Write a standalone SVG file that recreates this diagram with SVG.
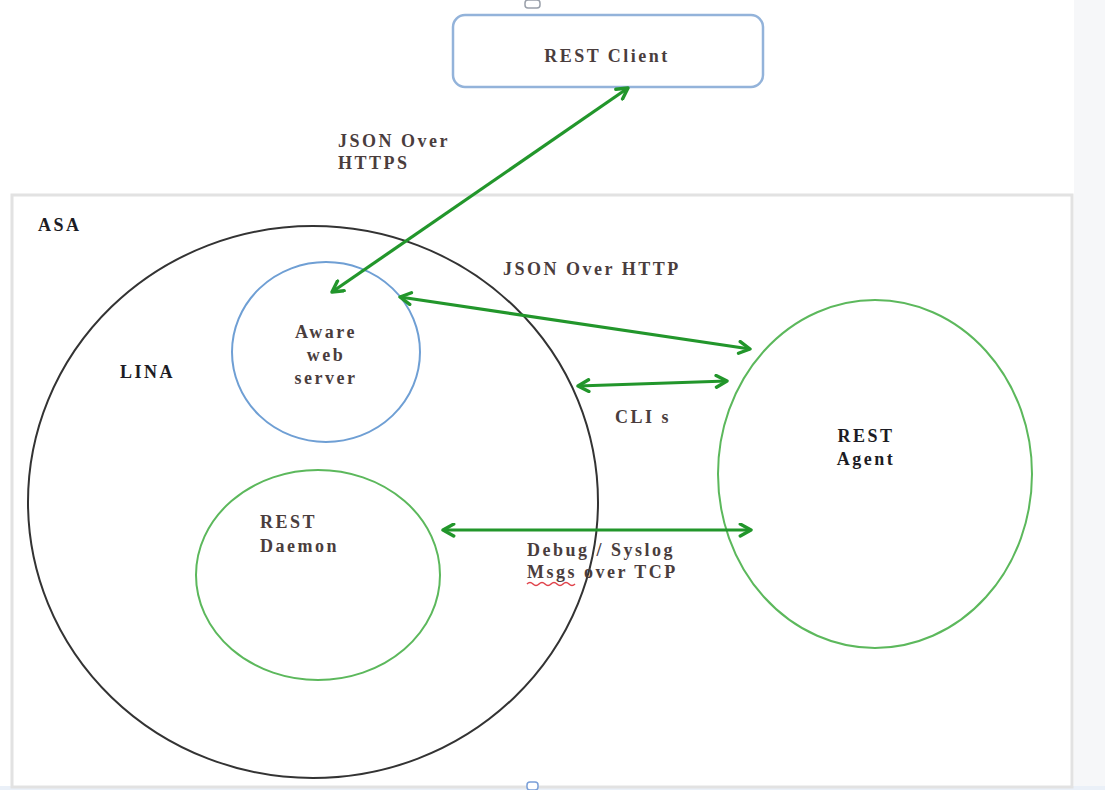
<svg xmlns="http://www.w3.org/2000/svg" width="1105" height="790" viewBox="0 0 1105 790">
<defs>
<marker id="ah" viewBox="0 0 14 14" refX="12" refY="7" markerWidth="15" markerHeight="15" markerUnits="userSpaceOnUse" orient="auto-start-reverse">
<path d="M2,1.5 L12,7 L2,12.5" fill="none" stroke="#22962b" stroke-width="3.2" stroke-linecap="round" stroke-linejoin="round"/>
</marker>
</defs>
<style>
.t{font-family:"Liberation Serif","Times New Roman",serif;font-weight:bold;font-size:18px;fill:#4a3d3d;letter-spacing:2.5px}
.k{fill:#1c1c24}
.c{stroke:#22962b;stroke-width:3.2;fill:none;marker-start:url(#ah);marker-end:url(#ah)}
.g{fill:none;stroke:#5cb85c;stroke-width:2}
</style>
<rect width="1105" height="790" fill="#ffffff"/>
<rect x="1074" y="0" width="31" height="790" fill="#f6f7f9"/>
<rect x="0" y="786" width="1105" height="4" fill="#eaf0f8"/>
<g id="asa">
<rect x="12" y="195" width="1060" height="592" fill="#ffffff" stroke="#e2e2e2" stroke-width="3"/>
<text class="t k" x="38" y="231" font-size="17">ASA</text>
</g>
<g id="rest-client">
<rect x="525" y="0" width="15" height="8" rx="3" fill="#fff" stroke="#9aa0aa" stroke-width="1.5"/>
<rect x="453" y="15" width="310" height="72" rx="12" fill="#ffffff" stroke="#93b3da" stroke-width="2.5"/>
<text class="t" x="607" y="62" text-anchor="middle" font-size="19">REST Client</text>
</g>
<g id="lina">
<ellipse cx="313" cy="502" rx="285" ry="276" fill="none" stroke="#333" stroke-width="2"/>
<text class="t k" x="120" y="378">LINA</text>
</g>
<g id="aware">
<ellipse cx="326" cy="352" rx="94" ry="90" fill="none" stroke="#6f9fd4" stroke-width="2"/>
<text class="t" text-anchor="middle" font-size="17" letter-spacing="3"><tspan x="326" y="338">Aware</tspan><tspan x="326" y="361">web</tspan><tspan x="326" y="384">server</tspan></text>
</g>
<g id="daemon">
<ellipse class="g" cx="318" cy="575" rx="122" ry="105"/>
<text class="t" font-size="17"><tspan x="260" y="528">REST</tspan><tspan x="260" y="552">Daemon</tspan></text>
</g>
<g id="agent">
<ellipse class="g" cx="875" cy="474" rx="157" ry="174"/>
<text class="t k" text-anchor="middle" font-size="17"><tspan x="866" y="442">REST</tspan><tspan x="866" y="465">Agent</tspan></text>
</g>
<g id="connectors">
<line class="c" x1="332" y1="292" x2="628" y2="88"/>
<line class="c" x1="400" y1="297" x2="750" y2="349"/>
<line class="c" x1="578" y1="386" x2="727" y2="381"/>
<line class="c" x1="443" y1="530" x2="751" y2="530"/>
</g>
<g id="labels">
<text class="t"><tspan x="338" y="147">JSON Over</tspan><tspan x="338" y="169">HTTPS</tspan></text>
<text class="t" x="503" y="275">JSON Over HTTP</text>
<text class="t" x="615" y="423">CLI s</text>
<text class="t" font-size="17"><tspan x="527" y="556">Debug / Syslog</tspan><tspan x="527" y="578">Msgs over TCP</tspan></text>
<path d="M527,584 q3,-3 6,0 t6,0 t6,0 t6,0 t6,0 t6,0 t6,0 t6,0" fill="none" stroke="#e0424a" stroke-width="1.5"/>
</g>
<rect x="527" y="782" width="11" height="8" rx="3" fill="#fff" stroke="#7a9fd8" stroke-width="1.5"/>
</svg>
